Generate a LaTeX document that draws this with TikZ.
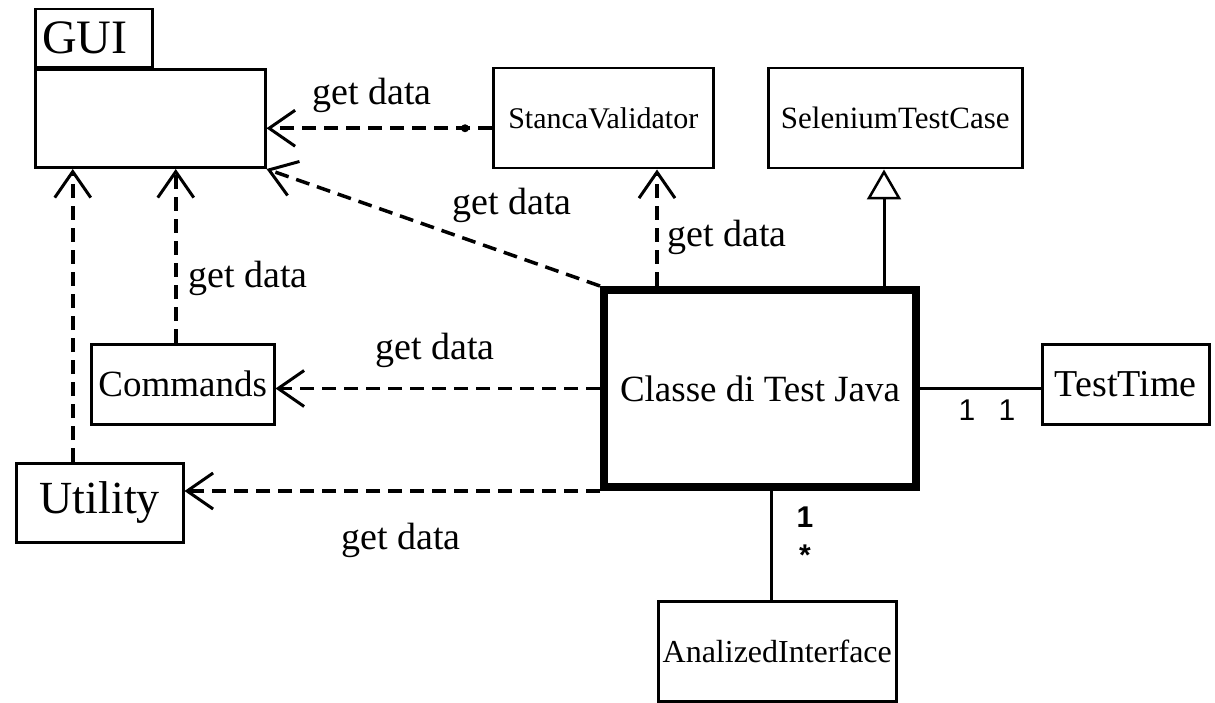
\documentclass[tikz,border=0pt]{standalone}
\usepackage{fontspec}
\setmainfont{Liberation Serif}
\newfontfamily\multfont{Liberation Sans}
\usetikzlibrary{arrows.meta, positioning, calc}

\begin{document}
\begin{tikzpicture}[
    x=1pt, y=-1pt,
    box/.style={draw, line width=2.5pt, inner sep=0pt, anchor=north west}, % classe normale
    mainbox/.style={draw, line width=8pt, inner sep=0pt, anchor=north west}, % classe principale
    dep/.style={line width=3.5pt, dash pattern=on 14pt off 8pt,
        -{Straight Barb[length=26pt, width=36pt, line width=3pt]}}, % dipendenza
    gen/.style={line width=3pt, -{Triangle[open, length=30pt, width=34pt, line width=2.5pt]}}, % ereditarieta
    assoc/.style={line width=3pt},
    lbl/.style={font=\fontsize{38}{42}\selectfont},
    mult/.style={font=\multfont\fontsize{30}{32}\selectfont}
]
    \useasboundingbox (0,0) rectangle (1215,703);

    % 1. classi
    \node[box, minimum width=117pt, minimum height=58pt, inner xsep=7pt, text width=103pt,
          align=left, font=\fontsize{48}{50}\selectfont] (guitab) at (34,8) {GUI};
    \node[box, minimum width=230pt, minimum height=98pt] (gui) at (guitab.south west) {};
    \node[box, minimum width=220pt, minimum height=100pt, font=\fontsize{30}{32}\selectfont] (stanca) at (492,67) {StancaValidator};
    \node[box, minimum width=254pt, minimum height=100pt, font=\fontsize{31}{33}\selectfont] (selenium) at (767,67) {SeleniumTestCase};
    \node[mainbox, minimum width=312pt, minimum height=197pt, font=\fontsize{37}{40}\selectfont] (classe) at (600,286) {Classe di Test Java};
    \node[box, minimum width=167pt, minimum height=80pt, font=\fontsize{38}{40}\selectfont] (testtime) at (1041,343) {TestTime};
    \node[box, minimum width=183pt, minimum height=80pt, font=\fontsize{37}{40}\selectfont] (commands) at (90,343) {Commands};
    \node[box, minimum width=167pt, minimum height=79pt, font=\fontsize{46}{48}\selectfont] (utility) at (15,462) {Utility};
    \node[box, minimum width=238pt, minimum height=100pt, font=\fontsize{32}{34}\selectfont] (analized) at (657,600) {AnalizedInterface};

    % 2. dipendenze (get data)
    \draw[dep] ([yshift=-10pt]stanca.west) -- ([yshift=-10pt]stanca.west -| gui.east);
    \fill ([xshift=-27pt, yshift=-10pt]stanca.west) circle (4pt);
    \draw[dep] (classe.north west) -- (gui.south east);
    \draw[dep] ([xshift=57pt]classe.north west) -- ([xshift=57pt]classe.north west |- stanca.south);
    \draw[dep] ([xshift=-7pt]commands.north) -- ([xshift=-7pt]commands.north |- gui.south);
    \draw[dep] ([xshift=-27pt]utility.north) -- ([xshift=-27pt]utility.north |- gui.south);
    \draw[dep] (classe.west) -- (classe.west -| commands.east);
    \draw[dep] (classe.south west) -- (classe.south west -| utility.east);

    \node[lbl] at (372,95) {get data};
    \node[lbl] at (512,205) {get data};
    \node[lbl] at (727,237) {get data};
    \node[lbl] at (248,278) {get data};
    \node[lbl] at (435,350) {get data};
    \node[lbl] at (401,540) {get data};

    % 3. ereditarieta e associazioni
    \draw[gen] ([xshift=-36pt]classe.north east) -- ([xshift=-36pt]classe.north east |- selenium.south);
    \draw[assoc] (classe.east) -- (classe.east -| testtime.west);
    \draw[assoc] ([xshift=11pt]classe.south) -- ([xshift=11pt]classe.south |- analized.north);

    \node[mult] at (967,410) {1};
    \node[mult] at (1007,410) {1};
    \node[mult, font=\multfont\bfseries\fontsize{30}{32}\selectfont] at (805,517) {1};
    \node[mult, font=\multfont\bfseries\fontsize{30}{32}\selectfont] at (805,555) {*};
\end{tikzpicture}
\end{document}
